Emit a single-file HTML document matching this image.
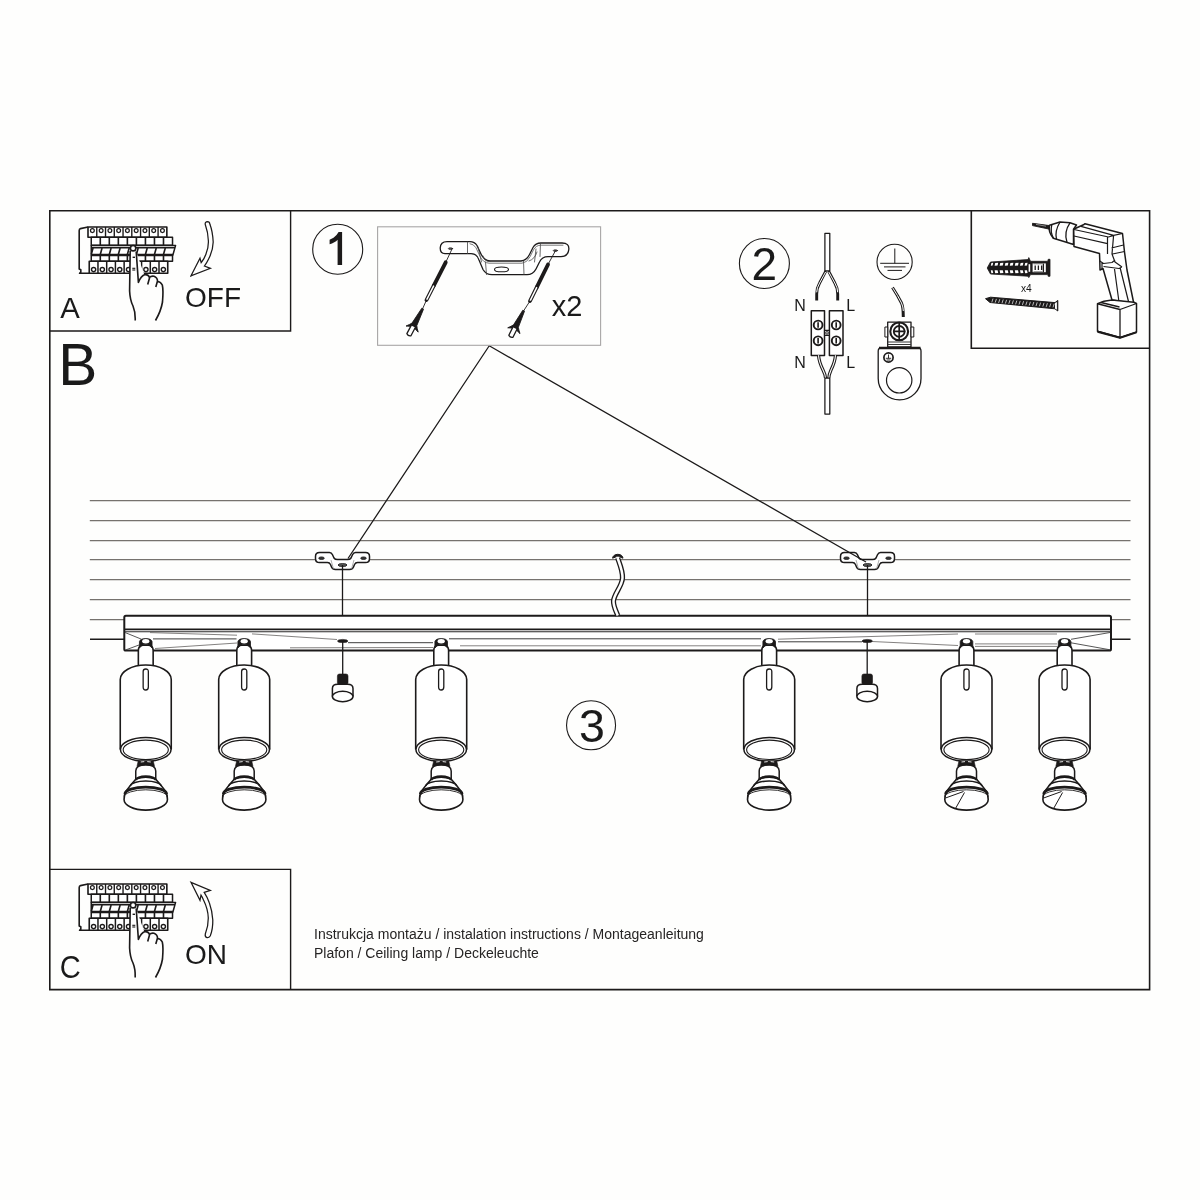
<!DOCTYPE html>
<html><head><meta charset="utf-8"><style>
html,body{margin:0;padding:0;background:#fff;}
body{width:1200px;height:1200px;overflow:hidden;position:relative;}
svg{position:absolute;left:0;top:0;will-change:transform;}
text{font-family:"Liberation Sans",sans-serif;fill:#1a1a1a;}
</style></head><body>
<svg width="1200" height="1200" viewBox="0 0 1200 1200">
<rect width="1200" height="1200" fill="#fefefd"/>
<line x1="89.8" y1="500.5" x2="1130.5" y2="500.5" stroke="#76726e" stroke-width="1.25"/>
<line x1="89.8" y1="520.5" x2="1130.5" y2="520.5" stroke="#76726e" stroke-width="1.25"/>
<line x1="89.8" y1="540.5" x2="1130.5" y2="540.5" stroke="#76726e" stroke-width="1.25"/>
<line x1="89.8" y1="559.5" x2="1130.5" y2="559.5" stroke="#76726e" stroke-width="1.25"/>
<line x1="89.8" y1="579.5" x2="1130.5" y2="579.5" stroke="#76726e" stroke-width="1.25"/>
<line x1="89.8" y1="599.5" x2="1130.5" y2="599.5" stroke="#76726e" stroke-width="1.25"/>
<line x1="89.8" y1="619.5" x2="1130.5" y2="619.5" stroke="#76726e" stroke-width="1.25"/>
<line x1="90" y1="639.2" x2="1130.5" y2="639.2" stroke="#1c1a1a" stroke-width="1.6"/>
<g fill="none" stroke="#1c1a1a" stroke-width="1.6">
<path d="M49.8,210.8 H1149.6 V989.6 H49.8 Z"/>
<path d="M49.8,331 H290.6 V210.8" stroke-width="1.4"/>
<path d="M971.3,210.8 V348.3 H1149.6" stroke-width="1.6"/>
<path d="M49.8,869.4 H290.6 V989.6" stroke-width="1.4"/>
</g>
<g transform="translate(0,0)" fill="none" stroke="#1c1a1a" stroke-width="1.38" stroke-linejoin="round">
<path d="M88,227 L80.5,228.6 Q79.2,229 79.2,230.5 L79.2,269 L80.8,269.8 L80.8,272 L79.6,273.3 L168,273.3" stroke-width="1.62"/>
<rect x="88.0" y="227" width="78.84" height="10.25" fill="#fff" stroke-width="1.62"/>
<line x1="96.76" y1="227" x2="96.76" y2="237.25"/>
<line x1="105.52" y1="227" x2="105.52" y2="237.25"/>
<line x1="114.28" y1="227" x2="114.28" y2="237.25"/>
<line x1="123.04" y1="227" x2="123.04" y2="237.25"/>
<line x1="131.80" y1="227" x2="131.80" y2="237.25"/>
<line x1="140.56" y1="227" x2="140.56" y2="237.25"/>
<line x1="149.32" y1="227" x2="149.32" y2="237.25"/>
<line x1="158.08" y1="227" x2="158.08" y2="237.25"/>
<circle cx="92.38" cy="230.6" r="1.9" stroke-width="1.25"/>
<circle cx="101.14" cy="230.6" r="1.9" stroke-width="1.25"/>
<circle cx="109.90" cy="230.6" r="1.9" stroke-width="1.25"/>
<circle cx="118.66" cy="230.6" r="1.9" stroke-width="1.25"/>
<circle cx="127.42" cy="230.6" r="1.9" stroke-width="1.25"/>
<circle cx="136.18" cy="230.6" r="1.9" stroke-width="1.25"/>
<circle cx="144.94" cy="230.6" r="1.9" stroke-width="1.25"/>
<circle cx="153.70" cy="230.6" r="1.9" stroke-width="1.25"/>
<circle cx="162.46" cy="230.6" r="1.9" stroke-width="1.25"/>
<rect x="91.25" y="237.25" width="81.27" height="8" fill="#fff" stroke-width="1.50"/>
<line x1="100.28" y1="237.25" x2="100.28" y2="245.25" stroke-width="1.62"/>
<line x1="109.31" y1="237.25" x2="109.31" y2="245.25" stroke-width="1.62"/>
<line x1="118.34" y1="237.25" x2="118.34" y2="245.25" stroke-width="1.62"/>
<line x1="127.37" y1="237.25" x2="127.37" y2="245.25" stroke-width="1.62"/>
<line x1="136.40" y1="237.25" x2="136.40" y2="245.25" stroke-width="1.62"/>
<line x1="145.43" y1="237.25" x2="145.43" y2="245.25" stroke-width="1.62"/>
<line x1="154.46" y1="237.25" x2="154.46" y2="245.25" stroke-width="1.62"/>
<line x1="163.49" y1="237.25" x2="163.49" y2="245.25" stroke-width="1.62"/>
<path d="M91.25,245.4 L175.6,245.4 L172.9,255 L91.25,255 Z" fill="#fff" stroke-width="1.50"/>
<line x1="91.25" y1="247.7" x2="175" y2="247.7" stroke-width="1.50"/>
<line x1="91.25" y1="255.1" x2="173" y2="255.1" stroke-width="2.50"/>
<line x1="93.05" y1="248" x2="91.25" y2="254.5" stroke-width="1.62"/>
<line x1="102.08" y1="248" x2="100.28" y2="254.5" stroke-width="1.62"/>
<line x1="111.11" y1="248" x2="109.31" y2="254.5" stroke-width="1.62"/>
<line x1="120.14" y1="248" x2="118.34" y2="254.5" stroke-width="1.62"/>
<line x1="129.17" y1="248" x2="127.37" y2="254.5" stroke-width="1.62"/>
<line x1="138.20" y1="248" x2="136.40" y2="254.5" stroke-width="1.62"/>
<line x1="147.23" y1="248" x2="145.43" y2="254.5" stroke-width="1.62"/>
<line x1="156.26" y1="248" x2="154.46" y2="254.5" stroke-width="1.62"/>
<line x1="165.29" y1="248" x2="163.49" y2="254.5" stroke-width="1.62"/>
<rect x="91.25" y="255.5" width="81.27" height="5.75" fill="#fff" stroke-width="1.50"/>
<line x1="100.28" y1="255.5" x2="100.28" y2="261.25" stroke-width="1.62"/>
<line x1="109.31" y1="255.5" x2="109.31" y2="261.25" stroke-width="1.62"/>
<line x1="118.34" y1="255.5" x2="118.34" y2="261.25" stroke-width="1.62"/>
<line x1="127.37" y1="255.5" x2="127.37" y2="261.25" stroke-width="1.62"/>
<line x1="136.40" y1="255.5" x2="136.40" y2="261.25" stroke-width="1.62"/>
<line x1="145.43" y1="255.5" x2="145.43" y2="261.25" stroke-width="1.62"/>
<line x1="154.46" y1="255.5" x2="154.46" y2="261.25" stroke-width="1.62"/>
<line x1="163.49" y1="255.5" x2="163.49" y2="261.25" stroke-width="1.62"/>
<rect x="89.25" y="261.25" width="78.48" height="12.05" fill="#fff" stroke-width="1.62"/>
<line x1="97.97" y1="261.25" x2="97.97" y2="273.3" stroke-width="1.50"/>
<line x1="106.69" y1="261.25" x2="106.69" y2="273.3" stroke-width="1.50"/>
<line x1="115.41" y1="261.25" x2="115.41" y2="273.3" stroke-width="1.50"/>
<line x1="124.13" y1="261.25" x2="124.13" y2="273.3" stroke-width="1.50"/>
<line x1="132.85" y1="261.25" x2="132.85" y2="273.3" stroke-width="1.50"/>
<line x1="141.57" y1="261.25" x2="141.57" y2="273.3" stroke-width="1.50"/>
<line x1="150.29" y1="261.25" x2="150.29" y2="273.3" stroke-width="1.50"/>
<line x1="159.01" y1="261.25" x2="159.01" y2="273.3" stroke-width="1.50"/>
<circle cx="93.61" cy="269.6" r="2.1" stroke-width="1.38"/>
<circle cx="102.33" cy="269.6" r="2.1" stroke-width="1.38"/>
<circle cx="111.05" cy="269.6" r="2.1" stroke-width="1.38"/>
<circle cx="119.77" cy="269.6" r="2.1" stroke-width="1.38"/>
<circle cx="128.49" cy="269.6" r="2.1" stroke-width="1.38"/>
<circle cx="137.21" cy="269.6" r="2.1" stroke-width="1.38"/>
<circle cx="145.93" cy="269.6" r="2.1" stroke-width="1.38"/>
<circle cx="154.65" cy="269.6" r="2.1" stroke-width="1.38"/>
<circle cx="163.37" cy="269.6" r="2.1" stroke-width="1.38"/>
<path d="M130.2,251 L129.8,274.2 L137.8,274.2 L136.2,251 Z" fill="#fff" stroke="none"/>
<path d="M130.2,251 L129.6,291 Q130,300 133,306 Q135.5,312 135.2,320.5" fill="none" stroke-width="1.62"/>
<path d="M136.2,251.5 L138.4,282.5 Q141,276 145,274.6 Q149,274.5 149.5,278 L147.7,284.5" fill="#fff" stroke-width="1.62"/>
<path d="M149.3,277.5 Q151,275.8 154,276.2 Q157.5,277.5 157.5,281 L155.8,287" fill="none" stroke-width="1.62"/>
<path d="M157.3,281.5 Q160.5,281.5 162.3,285 Q163.5,290 162.5,302 Q161,311 155.5,320.5" fill="none" stroke-width="1.62"/>
<circle cx="133.1" cy="248.2" r="2.7" fill="#fff" stroke-width="1.62"/>
<line x1="132.6" y1="257.3" x2="135" y2="257.3" stroke-width="1.38"/>
<line x1="132.3" y1="268.3" x2="135.3" y2="268.3" stroke-width="1.12"/><line x1="132.3" y1="270" x2="135.3" y2="270" stroke-width="1.12"/>
</g>
<g transform="translate(0,657)" fill="none" stroke="#1c1a1a" stroke-width="1.38" stroke-linejoin="round">
<path d="M88,227 L80.5,228.6 Q79.2,229 79.2,230.5 L79.2,269 L80.8,269.8 L80.8,272 L79.6,273.3 L168,273.3" stroke-width="1.62"/>
<rect x="88.0" y="227" width="78.84" height="10.25" fill="#fff" stroke-width="1.62"/>
<line x1="96.76" y1="227" x2="96.76" y2="237.25"/>
<line x1="105.52" y1="227" x2="105.52" y2="237.25"/>
<line x1="114.28" y1="227" x2="114.28" y2="237.25"/>
<line x1="123.04" y1="227" x2="123.04" y2="237.25"/>
<line x1="131.80" y1="227" x2="131.80" y2="237.25"/>
<line x1="140.56" y1="227" x2="140.56" y2="237.25"/>
<line x1="149.32" y1="227" x2="149.32" y2="237.25"/>
<line x1="158.08" y1="227" x2="158.08" y2="237.25"/>
<circle cx="92.38" cy="230.6" r="1.9" stroke-width="1.25"/>
<circle cx="101.14" cy="230.6" r="1.9" stroke-width="1.25"/>
<circle cx="109.90" cy="230.6" r="1.9" stroke-width="1.25"/>
<circle cx="118.66" cy="230.6" r="1.9" stroke-width="1.25"/>
<circle cx="127.42" cy="230.6" r="1.9" stroke-width="1.25"/>
<circle cx="136.18" cy="230.6" r="1.9" stroke-width="1.25"/>
<circle cx="144.94" cy="230.6" r="1.9" stroke-width="1.25"/>
<circle cx="153.70" cy="230.6" r="1.9" stroke-width="1.25"/>
<circle cx="162.46" cy="230.6" r="1.9" stroke-width="1.25"/>
<rect x="91.25" y="237.25" width="81.27" height="8" fill="#fff" stroke-width="1.50"/>
<line x1="100.28" y1="237.25" x2="100.28" y2="245.25" stroke-width="1.62"/>
<line x1="109.31" y1="237.25" x2="109.31" y2="245.25" stroke-width="1.62"/>
<line x1="118.34" y1="237.25" x2="118.34" y2="245.25" stroke-width="1.62"/>
<line x1="127.37" y1="237.25" x2="127.37" y2="245.25" stroke-width="1.62"/>
<line x1="136.40" y1="237.25" x2="136.40" y2="245.25" stroke-width="1.62"/>
<line x1="145.43" y1="237.25" x2="145.43" y2="245.25" stroke-width="1.62"/>
<line x1="154.46" y1="237.25" x2="154.46" y2="245.25" stroke-width="1.62"/>
<line x1="163.49" y1="237.25" x2="163.49" y2="245.25" stroke-width="1.62"/>
<path d="M91.25,245.4 L175.6,245.4 L172.9,255 L91.25,255 Z" fill="#fff" stroke-width="1.50"/>
<line x1="91.25" y1="247.7" x2="175" y2="247.7" stroke-width="1.50"/>
<line x1="91.25" y1="255.1" x2="173" y2="255.1" stroke-width="2.50"/>
<line x1="93.05" y1="248" x2="91.25" y2="254.5" stroke-width="1.62"/>
<line x1="102.08" y1="248" x2="100.28" y2="254.5" stroke-width="1.62"/>
<line x1="111.11" y1="248" x2="109.31" y2="254.5" stroke-width="1.62"/>
<line x1="120.14" y1="248" x2="118.34" y2="254.5" stroke-width="1.62"/>
<line x1="129.17" y1="248" x2="127.37" y2="254.5" stroke-width="1.62"/>
<line x1="138.20" y1="248" x2="136.40" y2="254.5" stroke-width="1.62"/>
<line x1="147.23" y1="248" x2="145.43" y2="254.5" stroke-width="1.62"/>
<line x1="156.26" y1="248" x2="154.46" y2="254.5" stroke-width="1.62"/>
<line x1="165.29" y1="248" x2="163.49" y2="254.5" stroke-width="1.62"/>
<rect x="91.25" y="255.5" width="81.27" height="5.75" fill="#fff" stroke-width="1.50"/>
<line x1="100.28" y1="255.5" x2="100.28" y2="261.25" stroke-width="1.62"/>
<line x1="109.31" y1="255.5" x2="109.31" y2="261.25" stroke-width="1.62"/>
<line x1="118.34" y1="255.5" x2="118.34" y2="261.25" stroke-width="1.62"/>
<line x1="127.37" y1="255.5" x2="127.37" y2="261.25" stroke-width="1.62"/>
<line x1="136.40" y1="255.5" x2="136.40" y2="261.25" stroke-width="1.62"/>
<line x1="145.43" y1="255.5" x2="145.43" y2="261.25" stroke-width="1.62"/>
<line x1="154.46" y1="255.5" x2="154.46" y2="261.25" stroke-width="1.62"/>
<line x1="163.49" y1="255.5" x2="163.49" y2="261.25" stroke-width="1.62"/>
<rect x="89.25" y="261.25" width="78.48" height="12.05" fill="#fff" stroke-width="1.62"/>
<line x1="97.97" y1="261.25" x2="97.97" y2="273.3" stroke-width="1.50"/>
<line x1="106.69" y1="261.25" x2="106.69" y2="273.3" stroke-width="1.50"/>
<line x1="115.41" y1="261.25" x2="115.41" y2="273.3" stroke-width="1.50"/>
<line x1="124.13" y1="261.25" x2="124.13" y2="273.3" stroke-width="1.50"/>
<line x1="132.85" y1="261.25" x2="132.85" y2="273.3" stroke-width="1.50"/>
<line x1="141.57" y1="261.25" x2="141.57" y2="273.3" stroke-width="1.50"/>
<line x1="150.29" y1="261.25" x2="150.29" y2="273.3" stroke-width="1.50"/>
<line x1="159.01" y1="261.25" x2="159.01" y2="273.3" stroke-width="1.50"/>
<circle cx="93.61" cy="269.6" r="2.1" stroke-width="1.38"/>
<circle cx="102.33" cy="269.6" r="2.1" stroke-width="1.38"/>
<circle cx="111.05" cy="269.6" r="2.1" stroke-width="1.38"/>
<circle cx="119.77" cy="269.6" r="2.1" stroke-width="1.38"/>
<circle cx="128.49" cy="269.6" r="2.1" stroke-width="1.38"/>
<circle cx="137.21" cy="269.6" r="2.1" stroke-width="1.38"/>
<circle cx="145.93" cy="269.6" r="2.1" stroke-width="1.38"/>
<circle cx="154.65" cy="269.6" r="2.1" stroke-width="1.38"/>
<circle cx="163.37" cy="269.6" r="2.1" stroke-width="1.38"/>
<path d="M130.2,251 L129.8,274.2 L137.8,274.2 L136.2,251 Z" fill="#fff" stroke="none"/>
<path d="M130.2,251 L129.6,291 Q130,300 133,306 Q135.5,312 135.2,320.5" fill="none" stroke-width="1.62"/>
<path d="M136.2,251.5 L138.4,282.5 Q141,276 145,274.6 Q149,274.5 149.5,278 L147.7,284.5" fill="#fff" stroke-width="1.62"/>
<path d="M149.3,277.5 Q151,275.8 154,276.2 Q157.5,277.5 157.5,281 L155.8,287" fill="none" stroke-width="1.62"/>
<path d="M157.3,281.5 Q160.5,281.5 162.3,285 Q163.5,290 162.5,302 Q161,311 155.5,320.5" fill="none" stroke-width="1.62"/>
<circle cx="133.1" cy="248.2" r="2.7" fill="#fff" stroke-width="1.62"/>
<line x1="132.6" y1="257.3" x2="135" y2="257.3" stroke-width="1.38"/>
<line x1="132.3" y1="268.3" x2="135.3" y2="268.3" stroke-width="1.12"/><line x1="132.3" y1="270" x2="135.3" y2="270" stroke-width="1.12"/>
</g>
<text x="60.3" y="318" font-size="29.3">A</text>
<text x="58.2" y="384.7" font-size="58.5">B</text>
<text transform="translate(59.8,977.6) scale(1.02,1.1)" font-size="28.5">C</text>
<text x="185" y="306.5" font-size="28">OFF</text>
<text x="185" y="963.5" font-size="28">ON</text>
<path d="M205.2,224.2 Q205,221.8 207.5,221.6 Q209.6,221.6 209.9,224.2 Q212.6,231 213.2,242 Q213,250.5 208.6,259 Q206.8,262.8 204.4,266 L210.4,268.3 L191,275.8 L200,258.3 L201.2,262.6 Q204.5,258.5 205.9,254.3 Q208.6,247.5 208.4,241 Q208.2,232.5 205.2,224.2 Z" fill="none" stroke="#1c1a1a" stroke-width="1.25" stroke-linejoin="miter"/>
<path d="M191,882.3 L210.3,890.4 L204.2,892.3 Q207.6,897.5 209.4,903 Q212.3,911 212.8,920 Q213,929 210.2,936 Q209,937.8 207,937.6 Q204.7,937 205.3,934 Q208.4,926 208.3,918 Q208,909 203.5,900 Q202.3,897.2 201,895.2 L200,900.3 Z" fill="none" stroke="#1c1a1a" stroke-width="1.25" stroke-linejoin="miter"/>
<circle cx="337.7" cy="249.2" r="25" fill="none" stroke="#1c1a1a" stroke-width="1.1"/>
<path d="M337.6,265 L342.1,265 L342.1,232.1 L338.6,232.1 Q336.5,236 333.5,237.8 Q331.5,239 329.6,239.8 L329.6,244.3 Q332,243.6 334.3,242.3 Q336.3,241.2 337.6,239.7 Z" fill="#1c1a1a"/>
<circle cx="764.4" cy="263.5" r="25" fill="none" stroke="#1c1a1a" stroke-width="1.1"/>
<text x="751.5" y="280" font-size="46">2</text>
<g stroke="#1c1a1a" fill="none" stroke-linejoin="round">
<rect x="124.3" y="615.8" width="986.7" height="34.8" rx="1.6" fill="#fff" stroke-width="2"/>
<line x1="124.3" y1="629.4" x2="1111" y2="629.4" stroke-width="1.6"/>
<line x1="125" y1="631.8" x2="1110" y2="631.8" stroke-width="1.1" stroke="#2a2828"/>
<path d="M125,632.5 L141,639 M126,649.8 L139,645 M1110,632.5 L1071,639.3 M1110,649.8 L1071,642.8" stroke-width="0.9" stroke="#444"/>
<path d="M153,638.9 L236.5,638.9 M449,638.8 L761,638.8 M348,642.7 L433,642.7 M778,641.8 L862,641.8" stroke-width="0.95" stroke="#333"/>
<path d="M155,648.5 L237,643 M150,632.6 L237,635.2 M252,633.9 L337,639.5 M290,647.8 L433,647.5 M460,645.8 L761,645.8 M778,639.2 L958,634 M872,641.5 L958,645.5 M975,634 L1057,634 M975,643.9 L1057,643.9 M975,646.4 L1057,646.4" stroke-width="0.85" stroke="#6e6c6a"/>
</g>
<g transform="translate(145.75,0)" stroke="#1c1a1a" fill="#fff" stroke-linejoin="round">
<path d="M-7.4,665 L-7.4,650.5 Q-7.4,645.3 -2.5,645.3 L2.5,645.3 Q7.4,645.3 7.4,650.5 L7.4,665" stroke-width="1.6"/>
<path d="M-6.3,648 L-6.3,641.5 Q-5.5,638.6 0,638.6 Q5.5,638.6 6.3,641.5 L6.3,648 Q4.5,645 0,644.6 Q-4.5,645 -6.3,648 Z" fill="#1c1a1a" stroke-width="0.8"/>
<ellipse cx="0" cy="641.3" rx="3.6" ry="2.2" fill="#fff" stroke="none"/>
<path d="M-25.5,749.4 L-25.5,679.5 A25.5,14.5 0 0 1 25.5,679.5 L25.5,749.4" stroke-width="1.6"/>
<ellipse cx="0" cy="749.4" rx="25.3" ry="11.9" stroke-width="1.5"/>
<ellipse cx="0" cy="749.8" rx="22.6" ry="9.7" stroke-width="1.1"/>
<path d="M-2.6,687 L-2.6,671.5 Q-2.6,669 0,669 Q2.6,669 2.6,671.5 L2.6,687 Q2.6,690 0,690 Q-2.6,690 -2.6,687 Z" stroke-width="1.3"/>
<path d="M-7.5,760.8 L7.5,760.8 L8.8,766.5 L-8.8,766.5 Z" fill="#1c1a1a" stroke-width="0.6"/>
<path d="M-5,762 L-1.5,761.6 M1.5,761.6 L5,762" stroke="#fff" stroke-width="0.9"/>
<path d="M-10,781 L-10,771 Q-10,765 0,765 Q10,765 10,771 L10,781" stroke-width="1.5"/>
<path d="M-9.8,779 Q0,775.3 9.8,779 Q14.5,784 19.6,791 Q21.7,794.5 21.7,799.5 A21.7,10.6 0 0 1 -21.7,799.5 Q-21.7,794.5 -19.6,791 Q-14.5,784 -9.8,779 Z" stroke-width="1.6"/>
<path d="M-9.8,780.2 A9.8,3.8 0 0 1 9.8,780.2" fill="none" stroke-width="2.2"/>
<path d="M-15.3,786 A15.3,5 0 0 1 15.3,786" fill="none" stroke-width="1.6"/>
<path d="M-20.8,794 A20.8,6.8 0 0 1 20.8,794" fill="none" stroke-width="2.8"/>
<path d="M-21.5,797 A21.5,7.2 0 0 1 21.5,797" fill="none" stroke-width="0.9"/>
</g>
<g transform="translate(244.2,0)" stroke="#1c1a1a" fill="#fff" stroke-linejoin="round">
<path d="M-7.4,665 L-7.4,650.5 Q-7.4,645.3 -2.5,645.3 L2.5,645.3 Q7.4,645.3 7.4,650.5 L7.4,665" stroke-width="1.6"/>
<path d="M-6.3,648 L-6.3,641.5 Q-5.5,638.6 0,638.6 Q5.5,638.6 6.3,641.5 L6.3,648 Q4.5,645 0,644.6 Q-4.5,645 -6.3,648 Z" fill="#1c1a1a" stroke-width="0.8"/>
<ellipse cx="0" cy="641.3" rx="3.6" ry="2.2" fill="#fff" stroke="none"/>
<path d="M-25.5,749.4 L-25.5,679.5 A25.5,14.5 0 0 1 25.5,679.5 L25.5,749.4" stroke-width="1.6"/>
<ellipse cx="0" cy="749.4" rx="25.3" ry="11.9" stroke-width="1.5"/>
<ellipse cx="0" cy="749.8" rx="22.6" ry="9.7" stroke-width="1.1"/>
<path d="M-2.6,687 L-2.6,671.5 Q-2.6,669 0,669 Q2.6,669 2.6,671.5 L2.6,687 Q2.6,690 0,690 Q-2.6,690 -2.6,687 Z" stroke-width="1.3"/>
<path d="M-7.5,760.8 L7.5,760.8 L8.8,766.5 L-8.8,766.5 Z" fill="#1c1a1a" stroke-width="0.6"/>
<path d="M-5,762 L-1.5,761.6 M1.5,761.6 L5,762" stroke="#fff" stroke-width="0.9"/>
<path d="M-10,781 L-10,771 Q-10,765 0,765 Q10,765 10,771 L10,781" stroke-width="1.5"/>
<path d="M-9.8,779 Q0,775.3 9.8,779 Q14.5,784 19.6,791 Q21.7,794.5 21.7,799.5 A21.7,10.6 0 0 1 -21.7,799.5 Q-21.7,794.5 -19.6,791 Q-14.5,784 -9.8,779 Z" stroke-width="1.6"/>
<path d="M-9.8,780.2 A9.8,3.8 0 0 1 9.8,780.2" fill="none" stroke-width="2.2"/>
<path d="M-15.3,786 A15.3,5 0 0 1 15.3,786" fill="none" stroke-width="1.6"/>
<path d="M-20.8,794 A20.8,6.8 0 0 1 20.8,794" fill="none" stroke-width="2.8"/>
<path d="M-21.5,797 A21.5,7.2 0 0 1 21.5,797" fill="none" stroke-width="0.9"/>
</g>
<g transform="translate(441.2,0)" stroke="#1c1a1a" fill="#fff" stroke-linejoin="round">
<path d="M-7.4,665 L-7.4,650.5 Q-7.4,645.3 -2.5,645.3 L2.5,645.3 Q7.4,645.3 7.4,650.5 L7.4,665" stroke-width="1.6"/>
<path d="M-6.3,648 L-6.3,641.5 Q-5.5,638.6 0,638.6 Q5.5,638.6 6.3,641.5 L6.3,648 Q4.5,645 0,644.6 Q-4.5,645 -6.3,648 Z" fill="#1c1a1a" stroke-width="0.8"/>
<ellipse cx="0" cy="641.3" rx="3.6" ry="2.2" fill="#fff" stroke="none"/>
<path d="M-25.5,749.4 L-25.5,679.5 A25.5,14.5 0 0 1 25.5,679.5 L25.5,749.4" stroke-width="1.6"/>
<ellipse cx="0" cy="749.4" rx="25.3" ry="11.9" stroke-width="1.5"/>
<ellipse cx="0" cy="749.8" rx="22.6" ry="9.7" stroke-width="1.1"/>
<path d="M-2.6,687 L-2.6,671.5 Q-2.6,669 0,669 Q2.6,669 2.6,671.5 L2.6,687 Q2.6,690 0,690 Q-2.6,690 -2.6,687 Z" stroke-width="1.3"/>
<path d="M-7.5,760.8 L7.5,760.8 L8.8,766.5 L-8.8,766.5 Z" fill="#1c1a1a" stroke-width="0.6"/>
<path d="M-5,762 L-1.5,761.6 M1.5,761.6 L5,762" stroke="#fff" stroke-width="0.9"/>
<path d="M-10,781 L-10,771 Q-10,765 0,765 Q10,765 10,771 L10,781" stroke-width="1.5"/>
<path d="M-9.8,779 Q0,775.3 9.8,779 Q14.5,784 19.6,791 Q21.7,794.5 21.7,799.5 A21.7,10.6 0 0 1 -21.7,799.5 Q-21.7,794.5 -19.6,791 Q-14.5,784 -9.8,779 Z" stroke-width="1.6"/>
<path d="M-9.8,780.2 A9.8,3.8 0 0 1 9.8,780.2" fill="none" stroke-width="2.2"/>
<path d="M-15.3,786 A15.3,5 0 0 1 15.3,786" fill="none" stroke-width="1.6"/>
<path d="M-20.8,794 A20.8,6.8 0 0 1 20.8,794" fill="none" stroke-width="2.8"/>
<path d="M-21.5,797 A21.5,7.2 0 0 1 21.5,797" fill="none" stroke-width="0.9"/>
</g>
<g transform="translate(769.2,0)" stroke="#1c1a1a" fill="#fff" stroke-linejoin="round">
<path d="M-7.4,665 L-7.4,650.5 Q-7.4,645.3 -2.5,645.3 L2.5,645.3 Q7.4,645.3 7.4,650.5 L7.4,665" stroke-width="1.6"/>
<path d="M-6.3,648 L-6.3,641.5 Q-5.5,638.6 0,638.6 Q5.5,638.6 6.3,641.5 L6.3,648 Q4.5,645 0,644.6 Q-4.5,645 -6.3,648 Z" fill="#1c1a1a" stroke-width="0.8"/>
<ellipse cx="0" cy="641.3" rx="3.6" ry="2.2" fill="#fff" stroke="none"/>
<path d="M-25.5,749.4 L-25.5,679.5 A25.5,14.5 0 0 1 25.5,679.5 L25.5,749.4" stroke-width="1.6"/>
<ellipse cx="0" cy="749.4" rx="25.3" ry="11.9" stroke-width="1.5"/>
<ellipse cx="0" cy="749.8" rx="22.6" ry="9.7" stroke-width="1.1"/>
<path d="M-2.6,687 L-2.6,671.5 Q-2.6,669 0,669 Q2.6,669 2.6,671.5 L2.6,687 Q2.6,690 0,690 Q-2.6,690 -2.6,687 Z" stroke-width="1.3"/>
<path d="M-7.5,760.8 L7.5,760.8 L8.8,766.5 L-8.8,766.5 Z" fill="#1c1a1a" stroke-width="0.6"/>
<path d="M-5,762 L-1.5,761.6 M1.5,761.6 L5,762" stroke="#fff" stroke-width="0.9"/>
<path d="M-10,781 L-10,771 Q-10,765 0,765 Q10,765 10,771 L10,781" stroke-width="1.5"/>
<path d="M-9.8,779 Q0,775.3 9.8,779 Q14.5,784 19.6,791 Q21.7,794.5 21.7,799.5 A21.7,10.6 0 0 1 -21.7,799.5 Q-21.7,794.5 -19.6,791 Q-14.5,784 -9.8,779 Z" stroke-width="1.6"/>
<path d="M-9.8,780.2 A9.8,3.8 0 0 1 9.8,780.2" fill="none" stroke-width="2.2"/>
<path d="M-15.3,786 A15.3,5 0 0 1 15.3,786" fill="none" stroke-width="1.6"/>
<path d="M-20.8,794 A20.8,6.8 0 0 1 20.8,794" fill="none" stroke-width="2.8"/>
<path d="M-21.5,797 A21.5,7.2 0 0 1 21.5,797" fill="none" stroke-width="0.9"/>
</g>
<g transform="translate(966.5,0)" stroke="#1c1a1a" fill="#fff" stroke-linejoin="round">
<path d="M-7.4,665 L-7.4,650.5 Q-7.4,645.3 -2.5,645.3 L2.5,645.3 Q7.4,645.3 7.4,650.5 L7.4,665" stroke-width="1.6"/>
<path d="M-6.3,648 L-6.3,641.5 Q-5.5,638.6 0,638.6 Q5.5,638.6 6.3,641.5 L6.3,648 Q4.5,645 0,644.6 Q-4.5,645 -6.3,648 Z" fill="#1c1a1a" stroke-width="0.8"/>
<ellipse cx="0" cy="641.3" rx="3.6" ry="2.2" fill="#fff" stroke="none"/>
<path d="M-25.5,749.4 L-25.5,679.5 A25.5,14.5 0 0 1 25.5,679.5 L25.5,749.4" stroke-width="1.6"/>
<ellipse cx="0" cy="749.4" rx="25.3" ry="11.9" stroke-width="1.5"/>
<ellipse cx="0" cy="749.8" rx="22.6" ry="9.7" stroke-width="1.1"/>
<path d="M-2.6,687 L-2.6,671.5 Q-2.6,669 0,669 Q2.6,669 2.6,671.5 L2.6,687 Q2.6,690 0,690 Q-2.6,690 -2.6,687 Z" stroke-width="1.3"/>
<path d="M-7.5,760.8 L7.5,760.8 L8.8,766.5 L-8.8,766.5 Z" fill="#1c1a1a" stroke-width="0.6"/>
<path d="M-5,762 L-1.5,761.6 M1.5,761.6 L5,762" stroke="#fff" stroke-width="0.9"/>
<path d="M-10,781 L-10,771 Q-10,765 0,765 Q10,765 10,771 L10,781" stroke-width="1.5"/>
<path d="M-9.8,779 Q0,775.3 9.8,779 Q14.5,784 19.6,791 Q21.7,794.5 21.7,799.5 A21.7,10.6 0 0 1 -21.7,799.5 Q-21.7,794.5 -19.6,791 Q-14.5,784 -9.8,779 Z" stroke-width="1.6"/>
<path d="M-9.8,780.2 A9.8,3.8 0 0 1 9.8,780.2" fill="none" stroke-width="2.2"/>
<path d="M-15.3,786 A15.3,5 0 0 1 15.3,786" fill="none" stroke-width="1.6"/>
<path d="M-20.8,794 A20.8,6.8 0 0 1 20.8,794" fill="none" stroke-width="2.8"/>
<path d="M-21.5,797 A21.5,7.2 0 0 1 21.5,797" fill="none" stroke-width="0.9"/>
<path d="M-21,798 L-3,791.5 M-2,792.5 L-11,808.5" fill="none" stroke-width="1"/>
</g>
<g transform="translate(1064.6,0)" stroke="#1c1a1a" fill="#fff" stroke-linejoin="round">
<path d="M-7.4,665 L-7.4,650.5 Q-7.4,645.3 -2.5,645.3 L2.5,645.3 Q7.4,645.3 7.4,650.5 L7.4,665" stroke-width="1.6"/>
<path d="M-6.3,648 L-6.3,641.5 Q-5.5,638.6 0,638.6 Q5.5,638.6 6.3,641.5 L6.3,648 Q4.5,645 0,644.6 Q-4.5,645 -6.3,648 Z" fill="#1c1a1a" stroke-width="0.8"/>
<ellipse cx="0" cy="641.3" rx="3.6" ry="2.2" fill="#fff" stroke="none"/>
<path d="M-25.5,749.4 L-25.5,679.5 A25.5,14.5 0 0 1 25.5,679.5 L25.5,749.4" stroke-width="1.6"/>
<ellipse cx="0" cy="749.4" rx="25.3" ry="11.9" stroke-width="1.5"/>
<ellipse cx="0" cy="749.8" rx="22.6" ry="9.7" stroke-width="1.1"/>
<path d="M-2.6,687 L-2.6,671.5 Q-2.6,669 0,669 Q2.6,669 2.6,671.5 L2.6,687 Q2.6,690 0,690 Q-2.6,690 -2.6,687 Z" stroke-width="1.3"/>
<path d="M-7.5,760.8 L7.5,760.8 L8.8,766.5 L-8.8,766.5 Z" fill="#1c1a1a" stroke-width="0.6"/>
<path d="M-5,762 L-1.5,761.6 M1.5,761.6 L5,762" stroke="#fff" stroke-width="0.9"/>
<path d="M-10,781 L-10,771 Q-10,765 0,765 Q10,765 10,771 L10,781" stroke-width="1.5"/>
<path d="M-9.8,779 Q0,775.3 9.8,779 Q14.5,784 19.6,791 Q21.7,794.5 21.7,799.5 A21.7,10.6 0 0 1 -21.7,799.5 Q-21.7,794.5 -19.6,791 Q-14.5,784 -9.8,779 Z" stroke-width="1.6"/>
<path d="M-9.8,780.2 A9.8,3.8 0 0 1 9.8,780.2" fill="none" stroke-width="2.2"/>
<path d="M-15.3,786 A15.3,5 0 0 1 15.3,786" fill="none" stroke-width="1.6"/>
<path d="M-20.8,794 A20.8,6.8 0 0 1 20.8,794" fill="none" stroke-width="2.8"/>
<path d="M-21.5,797 A21.5,7.2 0 0 1 21.5,797" fill="none" stroke-width="0.9"/>
<path d="M-21,798 L-3,791.5 M-2,792.5 L-11,808.5" fill="none" stroke-width="1"/>
</g>
<g transform="translate(342.7,0)" stroke="#1c1a1a" fill="#fff">
<ellipse cx="0" cy="641" rx="5.2" ry="1.6" fill="#1c1a1a" stroke-width="0.6"/>
<line x1="0" y1="641" x2="0" y2="674.5" stroke-width="1.3"/>
<rect x="-5.3" y="674" width="10.6" height="10.5" rx="2" fill="#1c1a1a" stroke-width="0.6"/>
<path d="M-10.3,696.5 L-10.3,688.5 Q-10.3,684.3 -5,684.3 L5,684.3 Q10.3,684.3 10.3,688.5 L10.3,696.5" stroke-width="1.5"/>
<ellipse cx="0" cy="696.5" rx="10.3" ry="5.2" stroke-width="1.5"/>
</g>
<g transform="translate(867.2,0)" stroke="#1c1a1a" fill="#fff">
<ellipse cx="0" cy="641" rx="5.2" ry="1.6" fill="#1c1a1a" stroke-width="0.6"/>
<line x1="0" y1="641" x2="0" y2="674.5" stroke-width="1.3"/>
<rect x="-5.3" y="674" width="10.6" height="10.5" rx="2" fill="#1c1a1a" stroke-width="0.6"/>
<path d="M-10.3,696.5 L-10.3,688.5 Q-10.3,684.3 -5,684.3 L5,684.3 Q10.3,684.3 10.3,688.5 L10.3,696.5" stroke-width="1.5"/>
<ellipse cx="0" cy="696.5" rx="10.3" ry="5.2" stroke-width="1.5"/>
</g>
<g transform="translate(342.5,0)" stroke="#1c1a1a" fill="#fff" stroke-linejoin="round">
<path d="M-23,552.6 L-13,552.6 Q-11,552.6 -10,554.8 L-8.5,558 Q-7.5,559.6 -5,559.6 L5,559.6 Q7.5,559.6 8.5,558 L10,554.8 Q11,552.6 13,552.6 L23,552.6 Q27,552.6 27,556.5 L27,558.5 Q27,562.6 23,562.6 L15,562.6 Q13,562.6 12,564.5 L11,567 Q10,569.4 7,569.4 L-7,569.4 Q-10,569.4 -11,567 L-12,564.5 Q-13,562.6 -15,562.6 L-23,562.6 Q-27,562.6 -27,558.5 L-27,556.5 Q-27,552.6 -23,552.6 Z" stroke-width="1.5"/>
<ellipse cx="-21" cy="558.2" rx="2.8" ry="1.3" fill="#333" stroke-width="0.8"/>
<ellipse cx="21" cy="558.2" rx="2.8" ry="1.3" fill="#333" stroke-width="0.8"/>
<ellipse cx="0" cy="565" rx="4.5" ry="1.5" fill="#555" stroke-width="0.8"/>
<path d="M-11.5,560 L-9,569 M11.5,560 L9,569" stroke-width="0.7" stroke="#888"/>
<line x1="0" y1="565" x2="0" y2="615.8" stroke-width="1.3"/>
</g>
<g transform="translate(867.5,0)" stroke="#1c1a1a" fill="#fff" stroke-linejoin="round">
<path d="M-23,552.6 L-13,552.6 Q-11,552.6 -10,554.8 L-8.5,558 Q-7.5,559.6 -5,559.6 L5,559.6 Q7.5,559.6 8.5,558 L10,554.8 Q11,552.6 13,552.6 L23,552.6 Q27,552.6 27,556.5 L27,558.5 Q27,562.6 23,562.6 L15,562.6 Q13,562.6 12,564.5 L11,567 Q10,569.4 7,569.4 L-7,569.4 Q-10,569.4 -11,567 L-12,564.5 Q-13,562.6 -15,562.6 L-23,562.6 Q-27,562.6 -27,558.5 L-27,556.5 Q-27,552.6 -23,552.6 Z" stroke-width="1.5"/>
<ellipse cx="-21" cy="558.2" rx="2.8" ry="1.3" fill="#333" stroke-width="0.8"/>
<ellipse cx="21" cy="558.2" rx="2.8" ry="1.3" fill="#333" stroke-width="0.8"/>
<ellipse cx="0" cy="565" rx="4.5" ry="1.5" fill="#555" stroke-width="0.8"/>
<path d="M-11.5,560 L-9,569 M11.5,560 L9,569" stroke-width="0.7" stroke="#888"/>
<line x1="0" y1="565" x2="0" y2="615.8" stroke-width="1.3"/>
</g>
<path d="M348,558.5 L489.25,345.75 L866,562" fill="none" stroke="#1c1a1a" stroke-width="1.3"/>
<path d="M617.6,558 C620,565 622.8,571 622.5,578 C622.2,586 614,594 613.5,601 C613.2,606 616,611 617.8,615.5" fill="none" stroke="#1c1a1a" stroke-width="5.2"/>
<path d="M617.6,558 C620,565 622.8,571 622.5,578 C622.2,586 614,594 613.5,601 C613.2,606 616,611 617.8,615.5" fill="none" stroke="#fff" stroke-width="2.5"/>
<path d="M612.6,558.2 Q613,554.6 617.8,554.3 Q622.6,554.6 623,558.2 Q620,556.8 617.8,556.8 Q615.5,556.8 612.6,558.2 Z" fill="#1c1a1a" stroke="#1c1a1a" stroke-width="1"/>
<path d="M616.2,557.4 L619.4,557.4" stroke="#fff" stroke-width="1.3"/>
<circle cx="591.05" cy="725.3" r="24.5" fill="none" stroke="#1c1a1a" stroke-width="1.1"/>
<text x="579" y="741.5" font-size="46.5">3</text>
<text x="314" y="939" font-size="14" style="fill:#262424">Instrukcja montażu / instalation instructions / Montageanleitung</text>
<text x="314" y="958" font-size="14" style="fill:#262424">Plafon / Ceiling lamp / Deckeleuchte</text>
<rect x="377.6" y="226.8" width="223" height="118.5" fill="none" stroke="#a8a6a6" stroke-width="1.1"/>
<g stroke="#1c1a1a" fill="none" stroke-linejoin="round" stroke-linecap="round">
<path d="M447,241.6 L470,241.6 Q474.5,241.6 477,245.5 L481,254 Q484,260.5 490,261 L521,261 Q526.5,260.5 529.5,254.5 L533,247.5 Q535.5,243 541,243 L562,243 Q569.5,243 568.8,249.5 Q568,256.6 561,256.6 L548,256.6 Q542,256.6 539.5,262 L536,269 Q533,274.7 527,274.7 L492,274.7 Q486,274.7 483,269.5 L479,260 Q477,253.7 471,253.7 L445,253.7 Q440.2,253.5 440.2,248 Q440.5,241.6 447,241.6 Z" stroke-width="1.3" fill="#fff"/>
<path d="M467.5,242 L467.5,253.5 M478,247 L481.5,262 M485.5,262 L486.5,274.5 M490,261.5 Q485,262.5 483,256 M523.5,261 L524,274.5 M536,249 L534.5,262 M540.5,243.5 L540,256.5 M529,261 Q535,259 537,252" stroke-width="0.8" stroke="#444"/>
<path d="M470,243.7 Q473.5,243.9 476,247.8 L480,256.3 Q483,262.8 489,263.2 L522,263.2 Q527,262.8 530,256.8 L533.5,249.8 Q536,245.2 541,245.2 L563,245.2" stroke-width="0.8" stroke="#555"/>
<ellipse cx="501.5" cy="269.4" rx="7" ry="2.4" stroke-width="1.1"/>
<ellipse cx="450.5" cy="248.6" rx="2.2" ry="0.9" fill="#555" stroke-width="0.6"/>
<ellipse cx="555.4" cy="250.6" rx="2.2" ry="0.9" fill="#555" stroke-width="0.6"/>
</g>
<g stroke="#1c1a1a" fill="none" stroke-linecap="round">
<line x1="452" y1="249" x2="445.7" y2="262.4" stroke-width="0.9"/>
<line x1="445.7" y1="262.4" x2="433.80" y2="285.71" stroke-width="3.9"/>
<line x1="433.80" y1="285.71" x2="426.5" y2="300" stroke-width="3.8"/>
<line x1="433.58" y1="286.14" x2="426.86" y2="299.29" stroke-width="1.5" stroke="#fff"/>
<line x1="426.5" y1="300" x2="422.5" y2="309" stroke-width="0.9"/>
<path d="M423.38,309.47 L416.77,325.63 L417.24,328.59 L418.19,332.14 L415.00,328.76 L410.40,326.34 L406.02,326.06 L409.46,324.48 L411.99,323.11 L421.62,308.53 Z" fill="#1c1a1a" stroke-width="0.9" stroke-linejoin="round"/>
<path d="M415.29,327.56 L410.95,335.78 Q408.08,336.30 406.89,333.63 L411.23,325.42" fill="#fff" stroke-width="1.3" stroke-linejoin="round"/>
</g>
<g stroke="#1c1a1a" fill="none" stroke-linecap="round">
<line x1="555.4" y1="250.8" x2="548" y2="264.5" stroke-width="0.9"/>
<line x1="548" y1="264.5" x2="536.84" y2="287.13" stroke-width="3.9"/>
<line x1="536.84" y1="287.13" x2="530" y2="301" stroke-width="3.8"/>
<line x1="536.63" y1="287.55" x2="530.34" y2="300.31" stroke-width="1.5" stroke="#fff"/>
<line x1="530" y1="301" x2="523.5" y2="311" stroke-width="0.9"/>
<path d="M524.39,311.45 L518.37,327.29 L518.94,330.17 L520.01,333.63 L516.73,330.36 L512.07,328.04 L507.72,327.81 L511.07,326.24 L513.55,324.87 L522.61,310.55 Z" fill="#1c1a1a" stroke-width="0.9" stroke-linejoin="round"/>
<path d="M516.98,329.19 L512.95,337.25 Q510.11,337.78 508.83,335.19 L512.86,327.13" fill="#fff" stroke-width="1.3" stroke-linejoin="round"/>
</g>
<text x="551.8" y="316" font-size="29">x2</text>
<g stroke="#1c1a1a" fill="none" stroke-linejoin="round">
<rect x="824.9" y="233.3" width="4.9" height="37.5" fill="#fff" stroke-width="1.25"/>
<path d="M825.8,271.2 L819.6,283 Q816.7,288 816.7,294 L816.7,300.5 M828.6,271.2 L834.8,283 Q837.7,288 837.7,294 L837.7,300.5" stroke-width="2.9"/>
<path d="M825.6,272 L819.6,283 Q816.7,288 816.7,292.3 M828.8,272 L834.8,283 Q837.7,288 837.7,292.3" stroke-width="1" stroke="#fff"/>
<rect x="811.3" y="310.8" width="13.2" height="44.6" fill="#fff" stroke-width="1.5"/>
<rect x="829.4" y="310.8" width="13.6" height="44.6" fill="#fff" stroke-width="1.5"/>
<path d="M824.5,330.3 L829.4,330.3 M824.5,335.4 L829.4,335.4" stroke-width="1.2"/>
<circle cx="818.1" cy="325" r="4.4" stroke-width="1.9"/>
<line x1="818.1" y1="322.2" x2="818.1" y2="327.8" stroke-width="1.6"/>
<circle cx="818.1" cy="340.8" r="4.4" stroke-width="1.9"/>
<line x1="818.1" y1="338.0" x2="818.1" y2="343.6" stroke-width="1.6"/>
<circle cx="836.2" cy="325" r="4.4" stroke-width="1.9"/>
<line x1="836.2" y1="322.2" x2="836.2" y2="327.8" stroke-width="1.6"/>
<circle cx="836.2" cy="340.8" r="4.4" stroke-width="1.9"/>
<line x1="836.2" y1="338.0" x2="836.2" y2="343.6" stroke-width="1.6"/>
<circle cx="827" cy="332.9" r="1.3" stroke-width="0.9"/>
<path d="M818.5,355.2 Q819,362 823,370 Q825.5,375 825.5,378 M835.5,355.2 Q835,362 831,370 Q828.8,375 828.8,378" stroke-width="3.2"/>
<path d="M818.5,355.2 Q819,362 823,370 Q825.5,375 825.5,378 M835.5,355.2 Q835,362 831,370 Q828.8,375 828.8,378" stroke-width="1.1" stroke="#fff"/>
<rect x="824.9" y="378" width="4.9" height="36" fill="#fff" stroke-width="1.25"/>
<circle cx="894.6" cy="261.9" r="17.6" stroke-width="1.1"/>
<path d="M894.8,248.5 L894.8,263.3 M880.2,263.3 L909,263.3 M884,266.9 L905.5,266.9 M887.5,270.4 L902,270.4" stroke-width="1"/>
<path d="M892.5,287.5 Q898,296 901.5,303 Q903.3,307 903.3,317" stroke-width="3"/>
<path d="M892.5,287.5 Q898,296 901.5,303 Q903.3,307 903.3,311" stroke-width="1" stroke="#fff"/>
<rect x="887.7" y="322.1" width="23.3" height="24.8" fill="#fff" stroke-width="1.3"/>
<rect x="884.9" y="327" width="2.8" height="10" fill="#fff" stroke-width="1"/>
<rect x="911" y="327" width="2.8" height="10" fill="#fff" stroke-width="1"/>
<circle cx="899.2" cy="331.4" r="8.9" stroke-width="2.1"/>
<circle cx="899.2" cy="331.4" r="5.4" stroke-width="1.8"/>
<path d="M899.2,322.5 L899.2,340.3 M893,331.4 L905.4,331.4" stroke-width="1.7"/>
<path d="M888,342 L911,342 M888,344.5 L911,344.5" stroke-width="1.1" stroke="#333"/>
<path d="M882,347.6 L917.5,347.6 Q921,347.6 921,351 L921,378.5 A21.4,21.4 0 0 1 878.2,378.5 L878.2,351 Q878.2,347.6 882,347.6 Z" fill="#fff" stroke-width="1.3"/>
<circle cx="899.2" cy="380.3" r="12.7" stroke-width="1.2"/>
<circle cx="888.5" cy="357.5" r="4.6" stroke-width="1.7"/>
<path d="M888.5,354.5 L888.5,358.3 M885.8,358.3 L891.2,358.3 M886.6,360 L890.4,360" stroke-width="0.9"/>
<path d="M879,348 L920.5,348" stroke-width="2.4"/>
</g>
<text x="794.2" y="310.5" font-size="16">N</text>
<text x="846.3" y="310.5" font-size="16">L</text>
<text x="794.2" y="368.3" font-size="16">N</text>
<text x="846.3" y="368.3" font-size="16">L</text>
<g stroke="#1c1a1a" fill="none" stroke-linejoin="round">
<path d="M987.2,268 L990.5,262 L1028,259.6 L1028.8,257.6 L1030.5,261.3 L1047.8,261.3 L1048.2,259.3 L1050,259.3 L1050,276.3 L1048.2,276.3 L1047.8,274.6 L1030.5,274.6 L1028.8,277.6 L1028,276.2 L990.5,274 Z" fill="#1c1a1a" stroke-width="0.8" stroke-linejoin="round"/>
<path d="M991.4,263 L993.2,262.7 L992.6,265.6 L990.8,265.8 Z" fill="#fff" stroke="none"/>
<path d="M990.8,270.3 L992.6,270.2 L993.2,273.1 L991.4,273.2 Z" fill="#fff" stroke="none"/>
<path d="M995.2,263 L998.2,262.7 L997.6,265.6 L994.6,265.8 Z" fill="#fff" stroke="none"/>
<path d="M994.6,270.3 L997.6,270.2 L998.2,273.1 L995.2,273.2 Z" fill="#fff" stroke="none"/>
<path d="M1000.2,263 L1003.4,262.7 L1002.8,265.6 L999.6,265.8 Z" fill="#fff" stroke="none"/>
<path d="M999.6,270.3 L1002.8,270.2 L1003.4,273.1 L1000.2,273.2 Z" fill="#fff" stroke="none"/>
<path d="M1005.4,263 L1008.4,262.7 L1007.8,265.6 L1004.8,265.8 Z" fill="#fff" stroke="none"/>
<path d="M1004.8,270.3 L1007.8,270.2 L1008.4,273.1 L1005.4,273.2 Z" fill="#fff" stroke="none"/>
<path d="M1010.4,263 L1013.4,262.7 L1012.8,265.6 L1009.8,265.8 Z" fill="#fff" stroke="none"/>
<path d="M1009.8,270.3 L1012.8,270.2 L1013.4,273.1 L1010.4,273.2 Z" fill="#fff" stroke="none"/>
<path d="M1015.4,263 L1018.6,262.7 L1018.0,265.6 L1014.8,265.8 Z" fill="#fff" stroke="none"/>
<path d="M1014.8,270.3 L1018.0,270.2 L1018.6,273.1 L1015.4,273.2 Z" fill="#fff" stroke="none"/>
<path d="M1020.6,263 L1023.4,262.7 L1022.8,265.6 L1020.0,265.8 Z" fill="#fff" stroke="none"/>
<path d="M1020.0,270.3 L1022.8,270.2 L1023.4,273.1 L1020.6,273.2 Z" fill="#fff" stroke="none"/>
<path d="M1025.2,263 L1027.6,262.7 L1027.0,265.6 L1024.6,265.8 Z" fill="#fff" stroke="none"/>
<path d="M1024.6,270.3 L1027.0,270.2 L1027.6,273.1 L1025.2,273.2 Z" fill="#fff" stroke="none"/>
<rect x="1028.6" y="264.2" width="1.6" height="7.6" fill="#fff" stroke="none"/>
<rect x="1032.6" y="263.4" width="13.2" height="8.8" fill="#fff" stroke="none"/>
<path d="M1035.2,265.5 L1035.2,270 M1038.4,265.5 L1038.4,270 M1041.6,265.5 L1041.6,270 M1043.4,263.4 L1043.4,272.2" stroke="#1c1a1a" stroke-width="1.3"/>
<path d="M1033.5,263.8 L1042.5,263.8 M1033.5,271.8 L1042.5,271.8" stroke="#555" stroke-width="0.8"/>
<path d="M985.5,298.7 L990.5,297.2 L1055,302.6 L1057.8,300.4 L1057.8,311 L1055,308.8 L990,302.5 Z" fill="#1c1a1a" stroke-width="1"/>
<path d="M1055,303.6 L1056.5,302.6 L1056.5,309.2 L1055,308" fill="#fff" stroke="#fff" stroke-width="0.8"/>
<line x1="993.0" y1="298.6" x2="991.8" y2="302.3" stroke="#fff" stroke-width="0.7"/>
<line x1="996.4" y1="298.9" x2="995.2" y2="302.6" stroke="#fff" stroke-width="0.7"/>
<line x1="999.8" y1="299.2" x2="998.6" y2="302.9" stroke="#fff" stroke-width="0.7"/>
<line x1="1003.2" y1="299.5" x2="1002.0" y2="303.2" stroke="#fff" stroke-width="0.7"/>
<line x1="1006.6" y1="299.8" x2="1005.4" y2="303.5" stroke="#fff" stroke-width="0.7"/>
<line x1="1010.0" y1="300.1" x2="1008.8" y2="303.8" stroke="#fff" stroke-width="0.7"/>
<line x1="1013.4" y1="300.3" x2="1012.2" y2="304.0" stroke="#fff" stroke-width="0.7"/>
<line x1="1016.8" y1="300.6" x2="1015.6" y2="304.3" stroke="#fff" stroke-width="0.7"/>
<line x1="1020.2" y1="300.9" x2="1019.0" y2="304.6" stroke="#fff" stroke-width="0.7"/>
<line x1="1023.6" y1="301.2" x2="1022.4" y2="304.9" stroke="#fff" stroke-width="0.7"/>
<line x1="1027.0" y1="301.5" x2="1025.8" y2="305.2" stroke="#fff" stroke-width="0.7"/>
<line x1="1030.4" y1="301.8" x2="1029.2" y2="305.5" stroke="#fff" stroke-width="0.7"/>
<line x1="1033.8" y1="302.0" x2="1032.6" y2="305.7" stroke="#fff" stroke-width="0.7"/>
<line x1="1037.2" y1="302.3" x2="1036.0" y2="306.0" stroke="#fff" stroke-width="0.7"/>
<line x1="1040.6" y1="302.6" x2="1039.4" y2="306.3" stroke="#fff" stroke-width="0.7"/>
<line x1="1044.0" y1="302.9" x2="1042.8" y2="306.6" stroke="#fff" stroke-width="0.7"/>
<line x1="1047.4" y1="303.2" x2="1046.2" y2="306.9" stroke="#fff" stroke-width="0.7"/>
<line x1="1050.8" y1="303.4" x2="1049.6" y2="307.1" stroke="#fff" stroke-width="0.7"/>
<line x1="1054.2" y1="303.7" x2="1053.0" y2="307.4" stroke="#fff" stroke-width="0.7"/>
<path d="M1032.5,223.3 L1049.5,225.6 L1049.5,229.2 L1032.5,225.6 Z" fill="#1c1a1a" stroke-width="0.9"/>
<path d="M1036,224.4 L1046,226.2" stroke="#fff" stroke-width="0.5"/>
<path d="M1073.5,229.25 L1083.5,224.8 L1085,223.7 L1122.5,233.5 L1124.5,252 L1127,270 L1133.8,303.5 L1112,300 L1103,268.5 L1100,270 L1099.8,261 L1099.5,253.5 L1074,246.5 Z" fill="#fff" stroke-width="1.5"/>
<path d="M1049.5,225.2 L1060,222 L1070,222.8 L1076.5,225 L1073.5,229.25 L1073.5,244.5 L1064,241.5 L1053.3,238.3 Q1048,232 1049.5,225.2 Z" fill="#fff" stroke-width="1.5"/>
<path d="M1051.8,224.6 Q1050,232 1053.5,238.3 M1060,222 Q1054.5,231 1056.5,239.3 M1070,222.8 Q1063.5,232 1067,242.5" stroke-width="1.3"/>
<path d="M1081,226.3 L1113.6,235.4 L1122.5,233.5 M1074,229.5 L1108.5,237 L1113.6,235.4 M1074,236 L1107.5,243.6 M1107.5,237 L1107.5,254 M1111.5,248 L1123.5,245 M1112.5,254 L1124.5,251.5 M1113.6,235.4 L1112,254 L1115,262 L1122,267 M1099.8,261 L1103.5,263.5 L1112,262.5 L1115,260 M1103.5,266.5 L1119,268.5 L1122,267 M1102,262.5 L1102,270 M1114.5,269 L1119.2,303.5 M1120.3,268.5 L1129,303.5" stroke-width="1.2"/>
<path d="M1097.5,303.75 L1104,301.3 L1112,300 L1133.8,302.3 L1136.5,303.5 L1136.5,332 L1120,337.5 L1097.5,331.25 Z" fill="#fff" stroke-width="1.5"/>
<path d="M1097.5,303.75 L1120,309.5 L1136.5,303.5 M1120,309.5 L1120,337.5 M1101,302.5 L1119.5,307 M1097.5,331.25 L1120,337.5 L1136.5,332" stroke-width="1.3"/>
<path d="M1097.5,331.8 L1120,338 L1136.5,332.5" stroke-width="1.8"/>
</g>
<text x="1021" y="292" font-size="10.2">x4</text>
</svg></body></html>
